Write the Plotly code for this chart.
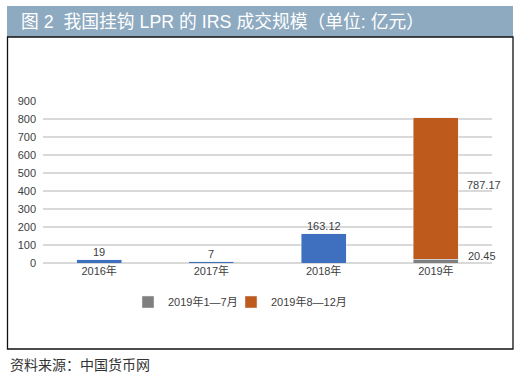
import plotly.graph_objects as go

categories = ["2016年", "2017年", "2018年", "2019年"]
annual = [19, 7, 163.12, None]
jan_jul_2019 = [None, None, None, 20.45]
aug_dec_2019 = [None, None, None, 787.17]
y_ticks = [0, 100, 200, 300, 400, 500, 600, 700, 800, 900]
series_names = ["2019年1—7月", "2019年8—12月"]
title_text = "图 2  我国挂钩 LPR 的 IRS 成交规模（单位: 亿元）"
source_text = "资料来源：中国货币网"

W, H = 516, 380
L, R, T, B = 43, 24, 101, 117
PW, PH = W - L - R, H - T - B

def px(x):
    return (x - L) / PW

def py(y):
    return (H - B - y) / PH

FONT = "Liberation Sans, Arial, Noto Sans CJK SC, sans-serif"
BLUE = "#3f6fbf"
GRAY = "#7f7f7f"
ORANGE = "#bf5a1d"

fig = go.Figure()
fig.add_trace(go.Bar(x=categories, y=annual, marker_color=BLUE, showlegend=False, width=0.4))
fig.add_trace(go.Bar(x=categories, y=jan_jul_2019, marker_color=GRAY, name=series_names[0], width=0.4,
                     legend="legend"))
fig.add_trace(go.Bar(x=categories, y=aug_dec_2019, marker_color=ORANGE, name=series_names[1], width=0.4,
                     legend="legend2"))

annotations = []
for c, v in zip(categories, annual):
    if v is not None:
        annotations.append(dict(x=c, y=v, xref="x", yref="y", text=str(v), showarrow=False,
                                yanchor="bottom", yshift=0, font=dict(size=11, color="#404040", family=FONT)))
base = jan_jul_2019[3]
top = aug_dec_2019[3]
annotations.append(dict(x=categories[3], y=base + top / 2, xref="x", yref="y", text=str(top),
                        showarrow=False, xshift=48, yshift=3, font=dict(size=11, color="#404040", family=FONT)))
annotations.append(dict(x=categories[3], y=base / 2, xref="x", yref="y", text=str(base),
                        showarrow=False, xshift=46, yshift=5, font=dict(size=11, color="#404040", family=FONT)))
annotations.append(dict(x=px(19), y=py(22), xref="paper", yref="paper", text=title_text, showarrow=False,
                        xanchor="left", yanchor="middle", font=dict(size=17.8, color="white", family=FONT)))
annotations.append(dict(x=px(8), y=py(365), xref="paper", yref="paper", text=source_text, showarrow=False,
                        xanchor="left", yanchor="middle", font=dict(size=14, color="#333333", family=FONT)))

shapes = [
    dict(type="rect", xref="paper", yref="paper", x0=px(7), x1=px(513), y0=py(6), y1=py(37),
         fillcolor="#8eaac1", line=dict(width=0), layer="below"),
    dict(type="rect", xref="paper", yref="paper", x0=px(7.5), x1=px(513), y0=py(37), y1=py(349),
         fillcolor="rgba(0,0,0,0)", line=dict(color="#111111", width=1.3)),
]

legend_common = dict(orientation="h", xanchor="left", y=py(302), yanchor="middle",
                     font=dict(size=11, color="#404040"), itemwidth=30, bgcolor="rgba(0,0,0,0)")

fig.update_layout(
    width=W, height=H,
    margin=dict(l=L, r=R, t=T, b=B, pad=0, autoexpand=False),
    paper_bgcolor="white", plot_bgcolor="white",
    barmode="stack",
    font=dict(family=FONT, size=11, color="#404040"),
    showlegend=True,
    legend=dict(x=px(128), **legend_common),
    legend2=dict(x=px(231), **legend_common),
    annotations=annotations,
    shapes=shapes,
    xaxis=dict(type="category", range=[-0.5, 3.5], autorange=False, showgrid=False, showline=False,
               ticks="", automargin=False, tickfont=dict(size=11, color="#404040")),
    yaxis=dict(range=[0, 900], autorange=False, tickvals=y_ticks, showgrid=True, gridcolor="#d9d9d9",
               gridwidth=2, zeroline=True, zerolinecolor="#d9d9d9", zerolinewidth=2, showline=False,
               ticks="", automargin=False, ticklabelstandoff=6, tickfont=dict(size=11, color="#404040")),
)

fig.write_html("out.html", config={"displayModeBar": False},
               post_script="document.body.style.margin='0';document.body.style.overflow='hidden';")
